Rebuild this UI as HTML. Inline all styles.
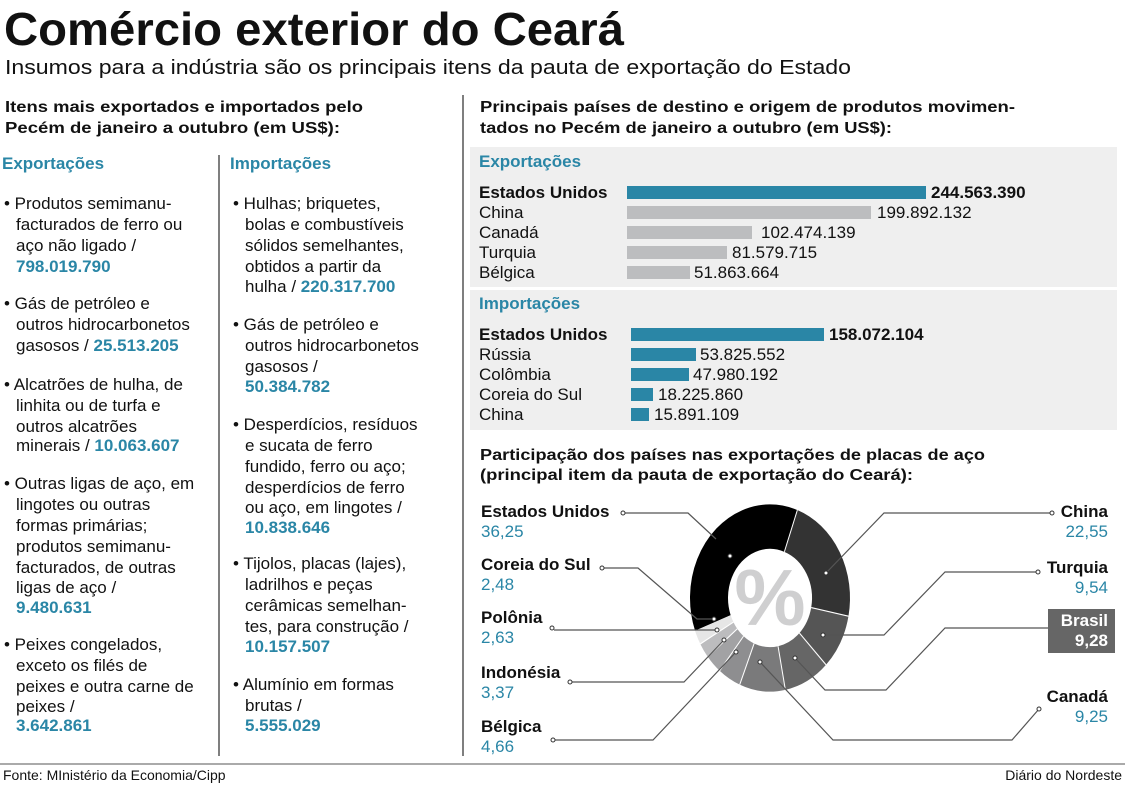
<!DOCTYPE html>
<html><head><meta charset="utf-8"><style>
html,body{margin:0;padding:0;background:#fff;}
svg{display:block;font-family:"Liberation Sans",sans-serif;}
.b{font-weight:bold}
.t{fill:#2a86a6}
.tx{font-size:17px;fill:#111}
.h{font-size:16px;font-weight:bold;fill:#111}
</style></head><body>
<svg width="1125" height="785" viewBox="0 0 1125 785" xmlns="http://www.w3.org/2000/svg">
<rect width="1125" height="785" fill="#fff"/>
<text x="4" y="45" font-size="46" font-weight="bold" fill="#111" textLength="620" lengthAdjust="spacingAndGlyphs">Comércio exterior do Ceará</text>
<text x="5" y="74" font-size="20" fill="#111" textLength="846" lengthAdjust="spacingAndGlyphs">Insumos para a indústria são os principais itens da pauta de exportação do Estado</text>

<line x1="463" y1="95" x2="463" y2="756" stroke="#555" stroke-width="1.5"/>
<line x1="219" y1="155" x2="219" y2="756" stroke="#555" stroke-width="1.5"/>
<line x1="0" y1="764" x2="1125" y2="764" stroke="#555" stroke-width="1"/>
<text x="3" y="780" font-size="14" fill="#111">Fonte: MInistério da Economia/Cipp</text>
<text x="1122" y="780" font-size="14" fill="#111" text-anchor="end">Diário do Nordeste</text>

<g class="h">
<text x="5" y="112" textLength="358" lengthAdjust="spacingAndGlyphs">Itens mais exportados e importados pelo</text>
<text x="5" y="133" textLength="335" lengthAdjust="spacingAndGlyphs">Pecém de janeiro a outubro (em US$):</text>
<text x="480" y="112" textLength="535" lengthAdjust="spacingAndGlyphs">Principais países de destino e origem de produtos movimen-</text>
<text x="480" y="133" textLength="412" lengthAdjust="spacingAndGlyphs">tados no Pecém de janeiro a outubro (em US$):</text>
<text x="480" y="460" textLength="505" lengthAdjust="spacingAndGlyphs">Participação dos países nas exportações de placas de aço</text>
<text x="480" y="480" textLength="433" lengthAdjust="spacingAndGlyphs">(principal item da pauta de exportação do Ceará):</text>
</g>
<text x="2" y="169" font-size="17" class="b t">Exportações</text>
<text x="230" y="169" font-size="17" class="b t">Importações</text>

<g class="tx">
<text x="4" y="209">• Produtos semimanu-</text>
<text x="16" y="230">facturados de ferro ou</text>
<text x="16" y="251">aço não ligado /</text>
<text x="16" y="272" class="b t">798.019.790</text>
<text x="4" y="309">• Gás de petróleo e</text>
<text x="16" y="330">outros hidrocarbonetos</text>
<text x="16" y="351">gasosos / <tspan class="b t">25.513.205</tspan></text>
<text x="4" y="390">• Alcatrões de hulha, de</text>
<text x="16" y="411">linhita ou de turfa e</text>
<text x="16" y="432">outros alcatrões</text>
<text x="16" y="451">minerais / <tspan class="b t">10.063.607</tspan></text>
<text x="4" y="489">• Outras ligas de aço, em</text>
<text x="16" y="510">lingotes ou outras</text>
<text x="16" y="531">formas primárias;</text>
<text x="16" y="552">produtos semimanu-</text>
<text x="16" y="573">facturados, de outras</text>
<text x="16" y="593">ligas de aço /</text>
<text x="16" y="613" class="b t">9.480.631</text>
<text x="4" y="650">• Peixes congelados,</text>
<text x="16" y="671">exceto os filés de</text>
<text x="16" y="692">peixes e outra carne de</text>
<text x="16" y="712">peixes /</text>
<text x="16" y="731" class="b t">3.642.861</text>

<text x="233" y="209">• Hulhas; briquetes,</text>
<text x="245" y="230">bolas e combustíveis</text>
<text x="245" y="251">sólidos semelhantes,</text>
<text x="245" y="272">obtidos a partir da</text>
<text x="245" y="292">hulha / <tspan class="b t">220.317.700</tspan></text>
<text x="233" y="330">• Gás de petróleo e</text>
<text x="245" y="351">outros hidrocarbonetos</text>
<text x="245" y="372">gasosos /</text>
<text x="245" y="392" class="b t">50.384.782</text>
<text x="233" y="430">• Desperdícios, resíduos</text>
<text x="245" y="451">e sucata de ferro</text>
<text x="245" y="472">fundido, ferro ou aço;</text>
<text x="245" y="493">desperdícios de ferro</text>
<text x="245" y="513">ou aço, em lingotes /</text>
<text x="245" y="533" class="b t">10.838.646</text>
<text x="233" y="569">• Tijolos, placas (lajes),</text>
<text x="245" y="590">ladrilhos e peças</text>
<text x="245" y="611">cerâmicas semelhan-</text>
<text x="245" y="632">tes, para construção /</text>
<text x="245" y="652" class="b t">10.157.507</text>
<text x="233" y="690">• Alumínio em formas</text>
<text x="245" y="711">brutas /</text>
<text x="245" y="731" class="b t">5.555.029</text>
</g>

<rect x="470" y="147" width="647" height="140" fill="#efefef"/>
<rect x="470" y="290" width="647" height="140" fill="#efefef"/>
<text x="479" y="167" font-size="17" class="b t">Exportações</text>
<text x="479" y="309" font-size="17" class="b t">Importações</text>
<rect x="627" y="186" width="299" height="13" fill="#2a86a6"/>
<rect x="627" y="206" width="244" height="13" fill="#bcbdbf"/>
<rect x="627" y="226" width="125" height="13" fill="#bcbdbf"/>
<rect x="627" y="246" width="100" height="13" fill="#bcbdbf"/>
<rect x="627" y="266" width="63" height="13" fill="#bcbdbf"/>
<rect x="631" y="328" width="193" height="13" fill="#2a86a6"/>
<rect x="631" y="348" width="65" height="13" fill="#2a86a6"/>
<rect x="631" y="368" width="58" height="13" fill="#2a86a6"/>
<rect x="631" y="388" width="22" height="13" fill="#2a86a6"/>
<rect x="631" y="408" width="18" height="13" fill="#2a86a6"/>
<g class="tx">
<text x="479" y="198" class="b">Estados Unidos</text>
<text x="479" y="218">China</text>
<text x="479" y="238">Canadá</text>
<text x="479" y="258">Turquia</text>
<text x="479" y="278">Bélgica</text>
<text x="931" y="198" class="b">244.563.390</text>
<text x="877" y="218">199.892.132</text>
<text x="761" y="238">102.474.139</text>
<text x="732" y="258">81.579.715</text>
<text x="694" y="278">51.863.664</text>
<text x="479" y="340" class="b">Estados Unidos</text>
<text x="479" y="360">Rússia</text>
<text x="479" y="380">Colômbia</text>
<text x="479" y="400">Coreia do Sul</text>
<text x="479" y="420">China</text>
<text x="829" y="340" class="b">158.072.104</text>
<text x="700" y="360">53.825.552</text>
<text x="693" y="380">47.980.192</text>
<text x="658" y="400">18.225.860</text>
<text x="654" y="420">15.891.109</text>
</g>

<!-- donut -->
<g transform="translate(770,598) scale(1,1.17)" fill="none" stroke-width="38">
<circle r="61" stroke="#000" stroke-dasharray="138.94 400" transform="rotate(159.5)"/>
<circle r="61" stroke="#333" stroke-dasharray="86.43 400" transform="rotate(290)"/>
<circle r="61" stroke="#555" stroke-dasharray="36.56 400" transform="rotate(371.18)"/>
<circle r="61" stroke="#666" stroke-dasharray="35.57 400" transform="rotate(405.52)"/>
<circle r="61" stroke="#7a7a7b" stroke-dasharray="35.45 400" transform="rotate(438.93)"/>
<circle r="61" stroke="#8e8e90" stroke-dasharray="17.86 400" transform="rotate(472.23)"/>
<circle r="61" stroke="#a2a2a4" stroke-dasharray="12.92 400" transform="rotate(489.01)"/>
<circle r="61" stroke="#bcbcbe" stroke-dasharray="10.08 400" transform="rotate(501.14)"/>
<circle r="61" stroke="#e6e6e6" stroke-dasharray="9.51 400" transform="rotate(510.61)"/>
<g stroke="#fff" stroke-width="1">
<line x1="42" y1="0" x2="80" y2="0" transform="rotate(290)"/>
<line x1="42" y1="0" x2="80" y2="0" transform="rotate(11.18)"/>
<line x1="42" y1="0" x2="80" y2="0" transform="rotate(45.52)"/>
<line x1="42" y1="0" x2="80" y2="0" transform="rotate(78.93)"/>
<line x1="42" y1="0" x2="80" y2="0" transform="rotate(112.23)"/>
<line x1="42" y1="0" x2="80" y2="0" transform="rotate(129.01)"/>
<line x1="42" y1="0" x2="80" y2="0" transform="rotate(141.14)"/>
<line x1="42" y1="0" x2="80" y2="0" transform="rotate(150.61)"/>
</g>
</g>
<text x="770" y="625" font-size="80" font-weight="bold" fill="#cfcfd0" text-anchor="middle">%</text>

<g fill="none" stroke="#555" stroke-width="1.2">
<polyline points="623,513 688,513 716,539"/>
<polyline points="1052,513 884,513 826,573"/>
<polyline points="602,568 638,568 697,619 714,619"/>
<polyline points="554,630 717,630"/>
<polyline points="570,682 684,682 724,640"/>
<polyline points="553,740 653,740 736,652"/>
<polyline points="1039,709 1012,740 833,740 760,662"/>
<polyline points="1052,628 945,628 886,690 825,690 795,658"/>
<polyline points="1038,572 945,572 884,635 823,635"/>
</g>
<g fill="#fff" stroke="#333" stroke-width="1">
<circle cx="623" cy="513" r="2"/><circle cx="1052" cy="513" r="2"/><circle cx="602" cy="568" r="2"/>
<circle cx="552" cy="628" r="2"/><circle cx="570" cy="682" r="2"/><circle cx="553" cy="740" r="2"/>
<circle cx="1039" cy="709" r="2"/><circle cx="1052" cy="628" r="2"/><circle cx="1038" cy="572" r="2"/>
<circle cx="730" cy="556" r="2"/><circle cx="826" cy="573" r="2"/><circle cx="714" cy="619" r="2"/>
<circle cx="717" cy="630" r="2"/><circle cx="724" cy="640" r="2"/><circle cx="736" cy="652" r="2"/>
<circle cx="760" cy="662" r="2"/><circle cx="795" cy="658" r="2"/><circle cx="823" cy="635" r="2"/>
</g>

<g font-size="17">
<text x="481" y="517" class="b" fill="#111">Estados Unidos</text>
<text x="481" y="537" class="t">36,25</text>
<text x="481" y="570" class="b" fill="#111">Coreia do Sul</text>
<text x="481" y="590" class="t">2,48</text>
<text x="481" y="623" class="b" fill="#111">Polônia</text>
<text x="481" y="643" class="t">2,63</text>
<text x="481" y="678" class="b" fill="#111">Indonésia</text>
<text x="481" y="698" class="t">3,37</text>
<text x="481" y="732" class="b" fill="#111">Bélgica</text>
<text x="481" y="752" class="t">4,66</text>
<text x="1108" y="517" class="b" fill="#111" text-anchor="end">China</text>
<text x="1108" y="537" class="t" text-anchor="end">22,55</text>
<text x="1108" y="573" class="b" fill="#111" text-anchor="end">Turquia</text>
<text x="1108" y="593" class="t" text-anchor="end">9,54</text>
<rect x="1048" y="609" width="67" height="44" fill="#666"/>
<text x="1108" y="626" class="b" fill="#fff" text-anchor="end">Brasil</text>
<text x="1108" y="646" class="b" fill="#fff" text-anchor="end">9,28</text>
<text x="1108" y="702" class="b" fill="#111" text-anchor="end">Canadá</text>
<text x="1108" y="722" class="t" text-anchor="end">9,25</text>
</g>
</svg>
</body></html>
